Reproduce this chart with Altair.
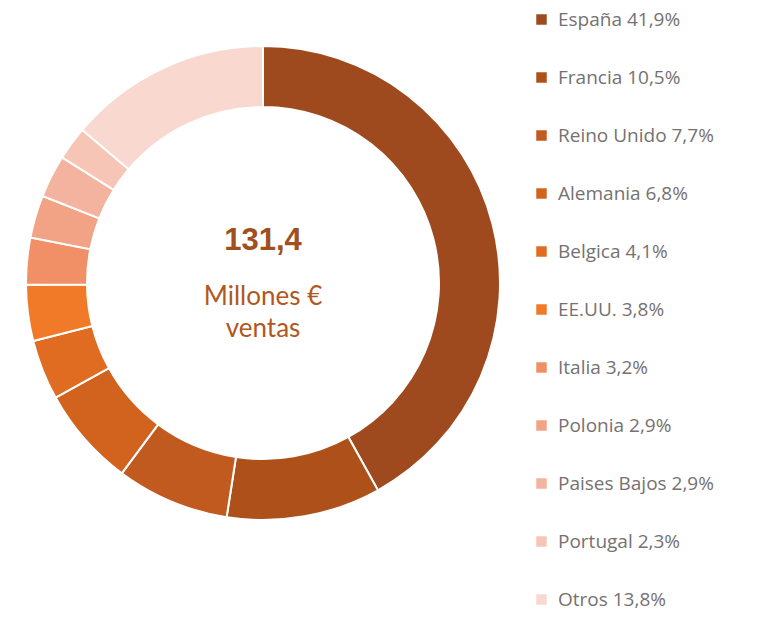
import altair as alt
import pandas as pd

countries = ["España", "Francia", "Reino Unido", "Alemania", "Belgica", "EE.UU.",
             "Italia", "Polonia", "Paises Bajos", "Portugal", "Otros"]
shares = [41.9, 10.5, 7.7, 6.8, 4.1, 3.8, 3.2, 2.9, 2.9, 2.3, 13.8]
colors = ["#9E4A1E", "#AE5019", "#C15A1F", "#D2631F", "#E06C22", "#F07A28",
          "#F19066", "#F2A285", "#F4B39E", "#F6C5B5", "#F8D8CF"]
center_value = ["131,4"]
center_lines = ["Millones €", "ventas"]

labels = [f"{c} {str(s).replace('.', ',')}%" for c, s in zip(countries, shares)]
df = pd.DataFrame({"label": labels, "share": shares, "rank": list(range(len(shares)))})

CX, CY = 255, 275

donut = alt.Chart(df).mark_arc(
    outerRadius=237, innerRadius=176, stroke="white", strokeWidth=2
).encode(
    theta=alt.Theta("share:Q", stack=True),
    order=alt.Order("rank:Q"),
    color=alt.Color(
        "label:N",
        sort=labels,
        scale=alt.Scale(domain=labels, range=colors),
        legend=alt.Legend(
            title=None, orient="none", legendX=524, legendY=2,
            symbolType="square", symbolSize=110, symbolStrokeWidth=0,
            labelFontSize=19, labelFont="Open Sans", labelColor="#767171",
            rowPadding=38, labelOffset=7, padding=0, labelLimit=300,
        ),
    ),
    x=alt.value(CX), y=alt.value(CY),
)

t1 = alt.Chart(pd.DataFrame({"t": center_value})).mark_text(
    font="Liberation Sans", fontSize=31, fontWeight="bold", color="#A0501E",
    align="center", baseline="middle"
).encode(text="t:N", x=alt.value(CX), y=alt.value(CY - 42))

t2 = alt.Chart(pd.DataFrame({"t": center_lines, "i": [0, 1]})).mark_text(
    font="Lato", fontSize=26, color="#B0581E", align="center", baseline="middle"
).encode(
    text="t:N", x=alt.value(CX),
    y=alt.Y("i:Q", scale=alt.Scale(domain=[0, 1], range=[CY + 14, CY + 46]), axis=None),
)

chart = alt.layer(donut, t1, t2).properties(
    width=743, height=604, autosize=alt.AutoSizeParams(type="none"), padding=0
).configure_view(stroke=None)

chart.save("out.html", embed_options={"renderer": "svg", "actions": False})
